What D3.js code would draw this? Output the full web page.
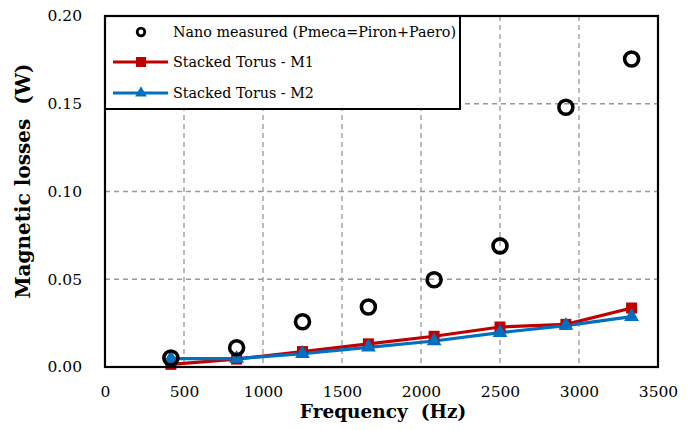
<!DOCTYPE html>
<html>
<head>
<meta charset="utf-8">
<script src="https://cdn.jsdelivr.net/npm/d3@7"></script>
<style>
  html, body { margin: 0; padding: 0; background: #fff; }
  svg { display: block; }
  text { font-family: "DejaVu Serif", "Liberation Serif", serif; fill: #000; }
</style>
</head>
<body>
<svg id="chart" width="697" height="430"></svg>
<script>
// Frequencies (Hz) at which losses were evaluated
const frequencies = [417, 833, 1250, 1667, 2083, 2500, 2917, 3333];
// Measured magnetic losses (W)
const measured = [0.0051, 0.0110, 0.0258, 0.0342, 0.0497, 0.0690, 0.1480, 0.1755];
// Stacked torus model M1 (W)
const torusM1 = [0.0015, 0.0045, 0.0088, 0.0132, 0.0175, 0.0228, 0.0243, 0.0336];
// Stacked torus model M2 (W)
const torusM2 = [0.0048, 0.0048, 0.0076, 0.0112, 0.0148, 0.0196, 0.0236, 0.0287];
// Axis tick values
const xTicks = [0, 500, 1000, 1500, 2000, 2500, 3000, 3500];
const yTicks = [0, 0.05, 0.10, 0.15, 0.20];
// Series labels
const seriesNames = ["Nano measured (Pmeca=Piron+Paero)", "Stacked Torus - M1", "Stacked Torus - M2"];

const svg = d3.select("#chart");
const plot = { left: 105, right: 658, top: 16, bottom: 367 };

const x = d3.scaleLinear().domain([0, 3500]).range([plot.left, plot.right]);
const y = d3.scaleLinear().domain([0, 0.20]).range([plot.bottom, plot.top]);

const red = "#c00000";
const blue = "#0070c0";

// Dashed grid lines
const grid = svg.append("g");
grid.selectAll("line.vx")
  .data(xTicks.filter(t => t > 0 && t < 3500))
  .join("line")
  .attr("x1", d => x(d)).attr("x2", d => x(d))
  .attr("y1", plot.top).attr("y2", plot.bottom)
  .attr("stroke", "#999").attr("stroke-width", 1.3).attr("stroke-dasharray", "5,4");
grid.selectAll("line.hy")
  .data(yTicks.filter(t => t > 0 && t < 0.2))
  .join("line")
  .attr("x1", plot.left).attr("x2", plot.right)
  .attr("y1", d => y(d)).attr("y2", d => y(d))
  .attr("stroke", "#999").attr("stroke-width", 1.3).attr("stroke-dasharray", "5,4");

// Axes: labels only, frame drawn separately
const xAxis = svg.append("g")
  .attr("transform", `translate(0,${plot.bottom})`)
  .call(d3.axisBottom(x).tickValues(xTicks).tickSize(0).tickPadding(19).tickFormat(d3.format("d")));
xAxis.select(".domain").remove();
xAxis.selectAll("text").style("font-size", "15.5px").attr("fill", "#000");

const yAxis = svg.append("g")
  .attr("transform", `translate(${plot.left},0)`)
  .call(d3.axisLeft(y).tickValues(yTicks).tickSize(0).tickPadding(23).tickFormat(d3.format(".2f")));
yAxis.select(".domain").remove();
yAxis.selectAll("text").style("font-size", "15.5px").attr("fill", "#000");

// Model lines
const line = d3.line().x((d, i) => x(frequencies[i])).y(d => y(d));

svg.append("path").datum(torusM1)
  .attr("d", line).attr("fill", "none").attr("stroke", red).attr("stroke-width", 3.2);
svg.append("path").datum(torusM2)
  .attr("d", line).attr("fill", "none").attr("stroke", blue).attr("stroke-width", 3.2);

// M1 square markers
svg.append("g").selectAll("rect")
  .data(torusM1)
  .join("rect")
  .attr("x", (d, i) => x(frequencies[i]) - 5.5)
  .attr("y", d => y(d) - 5.5)
  .attr("width", 11).attr("height", 11)
  .attr("fill", red);

// M2 triangle markers
const tri = d3.symbol().type(d3.symbolTriangle).size(95);
svg.append("g").selectAll("path")
  .data(torusM2)
  .join("path")
  .attr("d", tri)
  .attr("transform", (d, i) => `translate(${x(frequencies[i])},${y(d)})`)
  .attr("fill", blue);

// Measured points
svg.append("g").selectAll("circle")
  .data(measured)
  .join("circle")
  .attr("cx", (d, i) => x(frequencies[i]))
  .attr("cy", d => y(d))
  .attr("r", 7)
  .attr("fill", "none").attr("stroke", "#000").attr("stroke-width", 3.6);

// Legend
const legend = svg.append("g");
legend.append("rect")
  .attr("x", 105).attr("y", 16).attr("width", 355).attr("height", 93)
  .attr("fill", "#fff").attr("stroke", "#000").attr("stroke-width", 2);
const rows = [32, 62, 93];
legend.append("circle").attr("cx", 141).attr("cy", rows[0]).attr("r", 3.8)
  .attr("fill", "none").attr("stroke", "#000").attr("stroke-width", 2.8);
legend.append("line").attr("x1", 113).attr("x2", 168).attr("y1", rows[1]).attr("y2", rows[1])
  .attr("stroke", red).attr("stroke-width", 3.2);
legend.append("rect").attr("x", 136).attr("y", rows[1] - 5).attr("width", 10).attr("height", 10).attr("fill", red);
legend.append("line").attr("x1", 113).attr("x2", 168).attr("y1", rows[2]).attr("y2", rows[2])
  .attr("stroke", blue).attr("stroke-width", 3.2);
legend.append("path").attr("d", d3.symbol().type(d3.symbolTriangle).size(60))
  .attr("transform", `translate(141,${rows[2]})`).attr("fill", blue);
legend.selectAll("text.lg")
  .data(seriesNames)
  .join("text")
  .attr("x", 173).attr("y", (d, i) => rows[i])
  .attr("dominant-baseline", "central")
  .style("font-size", "14.3px")
  .text(d => d);

// Plot frame
svg.append("rect")
  .attr("x", plot.left).attr("y", plot.top)
  .attr("width", plot.right - plot.left).attr("height", plot.bottom - plot.top)
  .attr("fill", "none").attr("stroke", "#000").attr("stroke-width", 2.2);

// Axis titles
svg.append("text")
  .attr("x", 383).attr("y", 418)
  .attr("text-anchor", "middle")
  .style("font-size", "18.5px").style("font-weight", "bold")
  .style("white-space", "pre")
  .text("Frequency  (Hz)");
svg.append("text")
  .attr("transform", `translate(30,181) rotate(-90)`)
  .attr("text-anchor", "middle")
  .style("font-size", "20px").style("font-weight", "bold")
  .style("white-space", "pre")
  .text("Magnetic losses  (W)");
</script>
</body>
</html>
